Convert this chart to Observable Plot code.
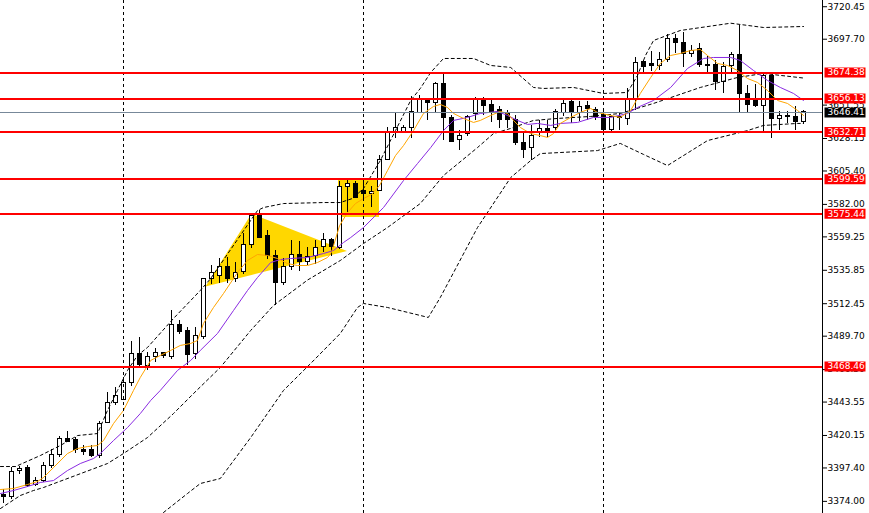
<!DOCTYPE html>
<html><head><meta charset="utf-8">
<script src="https://cdn.jsdelivr.net/npm/d3@7"></script>
<script src="https://cdn.jsdelivr.net/npm/@observablehq/plot@0.6"></script>
<style>html,body{margin:0;padding:0;background:#fff;} #chart svg{display:block}</style>
</head><body><div id="chart"></div>
<script>
// ---- candle data (index 0..100) ----
const opens = [3378.3,3376.9,3395.1,3397.5,3385.8,3388.6,3398.8,3406.8,3417.8,3417.3,3410.3,3410.3,3406.1,3429.2,3443.2,3445.3,3456.6,3476.9,3468.5,3474.8,3477.6,3475.1,3497.2,3493.0,3476.9,3488.8,3529.4,3531.8,3538.5,3529.7,3534.3,3553.9,3574.2,3560.2,3546.2,3526.9,3538.5,3546.6,3542.0,3546.2,3552.2,3557.2,3551.8,3594.5,3596.3,3591.7,3589.4,3591.2,3613.2,3633.0,3632.7,3635.6,3645.9,3655.3,3652.9,3666.0,3642.2,3627.2,3631.0,3645.0,3655.1,3651.3,3647.8,3645.0,3640.8,3624.9,3621.6,3631.9,3635.0,3635.8,3645.9,3653.6,3645.7,3650.6,3648.2,3644.6,3634.2,3642.2,3641.5,3656.0,3681.4,3680.3,3678.8,3682.8,3698.0,3694.9,3687.5,3691.0,3679.5,3679.3,3667.6,3678.6,3686.6,3659.5,3655.5,3650.6,3671.6,3641.8,3643.9,3643.1,3639.6];
const highs = [3382.3,3397.9,3398.4,3399.1,3390.7,3401.2,3410.3,3419.1,3422.6,3418.7,3413.1,3413.1,3429.6,3450.2,3453.7,3460.8,3486.0,3488.8,3478.3,3481.1,3478.3,3508.0,3500.7,3495.8,3495.8,3530.1,3539.2,3544.1,3545.1,3541.3,3561.6,3575.3,3577.7,3563.7,3549.7,3544.1,3556.7,3555.7,3551.5,3556.7,3561.3,3557.9,3598.0,3598.7,3597.7,3597.3,3594.5,3616.2,3636.2,3646.4,3637.2,3657.6,3658.3,3655.5,3667.4,3673.7,3644.3,3633.7,3644.3,3657.1,3657.1,3655.1,3650.6,3647.8,3644.3,3631.5,3637.3,3640.8,3640.8,3648.5,3655.8,3654.8,3654.1,3654.1,3649.9,3647.1,3644.3,3646.4,3663.0,3685.2,3683.1,3689.4,3688.4,3701.0,3701.3,3702.4,3693.3,3694.9,3685.9,3682.8,3681.4,3688.4,3707.3,3665.3,3666.0,3673.5,3672.3,3647.1,3647.1,3650.6,3647.8];
const lows = [3372.5,3375.3,3392.8,3383.9,3384.4,3387.2,3397.0,3404.7,3415.2,3407.5,3406.1,3404.7,3404.0,3428.5,3441.1,3444.7,3454.5,3467.8,3465.7,3471.3,3474.4,3473.4,3490.9,3469.2,3473.7,3487.7,3525.9,3526.6,3526.6,3527.3,3533.2,3551.1,3557.8,3543.4,3511.2,3525.2,3535.7,3535.0,3539.2,3539.6,3548.3,3545.5,3550.4,3576.3,3585.8,3584.7,3579.8,3591.0,3612.7,3628.2,3631.6,3628.0,3645.5,3640.8,3646.4,3626.7,3625.3,3619.7,3629.9,3640.8,3644.3,3639.4,3635.1,3635.1,3623.3,3613.9,3612.7,3629.1,3628.9,3633.7,3643.6,3638.6,3640.1,3640.8,3640.8,3631.9,3633.3,3633.7,3637.3,3647.8,3674.7,3675.1,3675.8,3681.7,3687.5,3678.1,3684.9,3678.1,3674.6,3661.8,3659.7,3674.7,3645.7,3645.7,3649.9,3633.0,3627.9,3633.7,3638.7,3633.7,3638.0];
const closes = [3376.9,3394.9,3396.8,3385.1,3388.6,3399.1,3406.8,3418.0,3415.9,3410.0,3408.9,3406.1,3428.5,3443.2,3448.1,3456.9,3476.9,3469.2,3474.8,3477.6,3475.5,3497.2,3492.6,3476.5,3489.5,3529.4,3533.6,3538.5,3529.7,3533.9,3553.9,3574.2,3558.5,3545.9,3526.9,3538.1,3546.6,3542.0,3545.2,3551.8,3557.2,3552.5,3594.5,3596.3,3586.5,3589.4,3591.0,3613.2,3632.1,3635.2,3635.6,3646.6,3655.3,3652.9,3666.0,3642.6,3625.6,3630.2,3643.1,3655.3,3651.1,3645.7,3640.8,3640.8,3624.9,3620.4,3630.2,3635.0,3632.6,3646.4,3652.5,3645.7,3650.2,3648.7,3643.1,3634.2,3643.1,3643.2,3656.0,3680.9,3678.1,3678.9,3682.8,3698.0,3694.9,3687.5,3689.4,3679.3,3678.9,3667.6,3678.2,3686.6,3659.5,3651.3,3650.6,3671.6,3641.9,3643.6,3643.1,3639.6,3646.41];

// ---- indicator readings [candle index, price] ----
const upperBand = [[-0.375,3398.4],[1.5,3398.4],[4.6,3406.1],[7.1,3413.1],[9.25,3420.1],[11.75,3421.5],[13,3437.7],[14.25,3451.7],[15.5,3465.7],[16.75,3476.2],[18,3481.8],[21.25,3502.1],[24.6,3521.7],[25.9,3530.1],[31.75,3577.7],[32.5,3579.8],[35,3582.6],[40,3583.3],[42.1,3583.3],[43.6,3586.1],[45,3593.1],[47.1,3612.7],[49,3633.7],[50.9,3654.8],[52.1,3663.2],[53.4,3674.4],[55,3684.2],[58.75,3684.2],[60.9,3679.3],[63.4,3677.9],[66.25,3663.9],[67.5,3663.2],[71.25,3663.9],[75,3659.7],[78,3660.4],[79.25,3672.3],[80.25,3686.3],[81.25,3696.8],[84.6,3703.8],[90.9,3708.9],[95,3705.9],[100,3706.6]];
const middleBand = [[-0.375,3369.0],[2.1,3378.1],[3.75,3381.6],[5,3383.7],[13,3400.5],[15,3407.5],[18,3418.7],[21.25,3435.5],[23.75,3449.5],[27.1,3467.8],[30.9,3493.7],[33.75,3511.2],[38,3529.0],[42.1,3542.7],[45,3554.6],[48,3565.8],[52.1,3582.6],[55,3602.2],[59.25,3621.8],[61.25,3631.6],[63.4,3635.2],[66.25,3640.8],[69.25,3642.2],[73.4,3643.6],[77.1,3645.7],[81.25,3652.7],[87.1,3663.9],[91.75,3670.9],[95,3673.7],[100,3670.5]];
const lowerBand = [[20,3366.2],[23,3379.5],[24.6,3386.5],[27.1,3390.0],[30.9,3418.7],[35,3451.7],[38.4,3470.6],[42.1,3491.6],[44.25,3509.8],[45,3512.6],[48,3509.8],[52.1,3504.2],[53.1,3502.8],[54.6,3516.8],[59.25,3565.8],[63.4,3600.8],[65.9,3612.7],[67.1,3617.6],[74.25,3619.7],[77.1,3624.7],[80,3617.0],[83,3609.2],[88,3626.7],[93,3633.7],[95,3637.3],[99.25,3638.7],[100,3638.7]];
const fastMA = [[-0.375,3382.3],[1.25,3383.0],[3,3385.8],[4.25,3387.9],[5,3390.7],[6.25,3397.7],[8,3407.5],[9.25,3411.0],[10.5,3412.4],[11.75,3413.1],[12.5,3416.6],[13.75,3428.5],[15,3437.7],[16.25,3451.7],[17.1,3460.8],[18.4,3472.7],[19.6,3476.2],[20.9,3479.7],[22.1,3483.2],[23.4,3484.6],[24.25,3486.7],[25,3498.6],[26.25,3509.8],[27.5,3519.6],[29.25,3534.3],[30.5,3542.7],[31.75,3546.9],[33,3546.2],[34.25,3544.1],[35.5,3540.6],[36.75,3539.2],[38,3539.2],[39.25,3541.3],[40.5,3544.8],[41,3548.3],[42,3567.0],[43,3576.3],[44,3582.6],[45,3586.1],[46,3588.9],[47,3595.2],[48,3605.7],[49,3616.2],[50,3623.2],[51.25,3633.7],[52.5,3645.7],[53.75,3650.6],[54.6,3652.0],[55.5,3649.9],[56.25,3645.7],[57.5,3642.2],[58.75,3639.4],[59.6,3640.8],[60.9,3644.3],[62.1,3647.1],[63,3645.7],[63.75,3640.8],[64.6,3635.9],[65.9,3631.6],[67.1,3630.2],[68,3628.9],[68.75,3631.6],[69.6,3638.7],[70.9,3642.9],[72.1,3646.4],[73.4,3649.2],[74.25,3646.4],[75.9,3644.3],[77.1,3642.9],[78.4,3647.8],[79.6,3659.7],[80.9,3670.9],[82.1,3680.7],[83.4,3686.3],[84.6,3687.7],[85.9,3689.8],[87.1,3690.5],[88,3686.3],[89.25,3680.7],[90.5,3679.3],[91.75,3675.8],[93,3670.2],[94.25,3667.4],[95.5,3661.8],[96.75,3654.8],[98,3652.7],[99.25,3647.8],[100,3644.3]];
const slowMA = [[-0.375,3379.5],[1.25,3381.6],[3,3384.4],[4.6,3387.2],[6.25,3388.6],[8,3395.6],[9.6,3400.5],[11.25,3404.0],[12.1,3407.5],[13.75,3416.6],[15.5,3425.7],[17.1,3435.5],[18.4,3444.7],[19.6,3451.7],[21.75,3465.7],[23.4,3472.7],[24.6,3479.7],[26.75,3491.6],[28.75,3507.7],[30.5,3521.7],[31.75,3530.8],[33.4,3541.3],[34.6,3543.4],[35.9,3544.1],[38,3544.8],[40,3547.6],[41.25,3549.7],[42.5,3555.3],[43.4,3558.8],[45,3565.8],[47.5,3579.8],[50,3598.7],[51.75,3610.6],[53.4,3621.8],[55,3633.7],[56.25,3640.8],[58,3642.9],[59.6,3645.7],[61.75,3647.1],[63,3644.3],[64.25,3640.8],[65.5,3638.0],[66.75,3638.7],[68.4,3637.3],[69.6,3638.7],[71.75,3639.4],[73.75,3642.9],[75.9,3642.9],[78,3645.7],[79.25,3649.9],[81.25,3654.8],[83.4,3663.9],[85.5,3677.2],[87.5,3684.2],[88.75,3684.9],[90.9,3684.9],[92.1,3682.8],[93.75,3675.8],[95.5,3668.8],[97.1,3663.9],[98.75,3659.7],[100,3654.8]];

// ---- annotations ----
const levels = [3674.38, 3656.13, 3632.71, 3599.59, 3575.44, 3468.46];
const lastPrice = 3646.41;
const separators = [15, 45, 75];
const yTicks = [3720.45, 3697.70, 3651.55, 3628.15, 3605.40, 3582.00, 3559.25, 3535.85, 3512.45, 3489.70, 3466.30, 3443.55, 3420.15, 3397.40, 3374.00];
const triVerts = [[25.31, 3524.1], [31.06, 3575.1], [43.0, 3549.0]];
const zoneIdx = [41.9, 46.95];
const zonePrice = [3572.8, 3599.3];

// ---- build tables ----
const candles = opens.map((o, i) => ({i, open: o, high: highs[i], low: lows[i], close: closes[i]}));
const pts = arr => arr.map(([i, v]) => ({i, v}));
const [A, B, C] = triVerts;
const bLow = A[1] + (C[1] - A[1]) * (B[0] - A[0]) / (C[0] - A[0]);
const triangle = [{i: A[0], lo: A[1], hi: A[1]}, {i: B[0], lo: bLow, hi: B[1]}, {i: C[0], lo: C[1], hi: C[1]}];
const zone = [{x1: zoneIdx[0], x2: zoneIdx[1], y1: zonePrice[0], y2: zonePrice[1]}];

const xDomain = [-0.375, candles.length + 1.375];
const yDomain = [3365.5, 3724.81];
const boxSymbol = {draw(ctx) { ctx.moveTo(-20.5, -5); ctx.lineTo(20.5, -5); ctx.lineTo(20.5, 5); ctx.lineTo(-20.5, 5); ctx.closePath(); }};
const font = "DejaVu Sans";
const dashed = {stroke: "#000", strokeWidth: 1, strokeDasharray: "3,3"};
const crisp = {shapeRendering: "crispEdges"};

const chart = Plot.plot({
  width: 869, height: 513,
  marginLeft: 0, marginTop: 0, marginBottom: 0, marginRight: 47,
  style: {background: "#fff", fontFamily: font, fontSize: "9px", overflow: "hidden"},
  x: {domain: xDomain, axis: null},
  y: {domain: yDomain, axis: null},
  marks: [
    Plot.area(triangle, {x1: "i", y1: "lo", y2: "hi", fill: "#ffd700"}),
    Plot.rect(zone, {x1: "x1", x2: "x2", y1: "y1", y2: "y2", fill: "#ffd700", ...crisp}),
    Plot.ruleX(candles, {x: "i", y1: "low", y2: "high", stroke: "#000", strokeWidth: 1, ...crisp}),
    Plot.rect(candles, {x1: d => d.i - 0.25, x2: d => d.i + 0.25, y1: "open", y2: "close",
      fill: d => d.close >= d.open ? "#fff" : "#000", stroke: "#000", strokeWidth: 1, ...crisp}),
    Plot.line(pts(upperBand), {x: "i", y: "v", ...dashed}),
    Plot.line(pts(middleBand), {x: "i", y: "v", ...dashed}),
    Plot.line(pts(lowerBand), {x: "i", y: "v", ...dashed}),
    Plot.line(pts(slowMA), {x: "i", y: "v", stroke: "#8a2be2", strokeWidth: 1}),
    Plot.line(pts(fastMA), {x: "i", y: "v", stroke: "#ffa500", strokeWidth: 1}),
    Plot.ruleX(separators, {...dashed, ...crisp}),
    Plot.ruleY([lastPrice], {stroke: "#778899", strokeWidth: 1, ...crisp}),
    Plot.ruleY(levels, {stroke: "#ff0000", strokeWidth: 2, ...crisp}),
    Plot.ruleX([xDomain[1]], {stroke: "#000", strokeWidth: 1, ...crisp}),
    Plot.axisY({anchor: "right", ticks: yTicks, tickFormat: d3.format(".2f"), tickSize: 4, tickPadding: 1,
      fontSize: 9, fontFamily: font, fill: "#000", stroke: "#000", label: null}),
    Plot.dot(levels, {y: d => d, frameAnchor: "right", dx: 22.5, symbol: boxSymbol, fill: "#ff0000", stroke: null}),
    Plot.text(levels, {y: d => d, text: d => d.toFixed(2), frameAnchor: "right", dx: 5, textAnchor: "start", fill: "#fff", fontSize: 9, fontFamily: font}),
    Plot.dot([lastPrice], {y: d => d, frameAnchor: "right", dx: 22.5, symbol: boxSymbol, fill: "#000", stroke: null}),
    Plot.text([lastPrice], {y: d => d, text: d => d.toFixed(2), frameAnchor: "right", dx: 5, textAnchor: "start", fill: "#fff", fontSize: 9, fontFamily: font})
  ]
});
document.getElementById("chart").appendChild(chart);
</script>
</body></html>
